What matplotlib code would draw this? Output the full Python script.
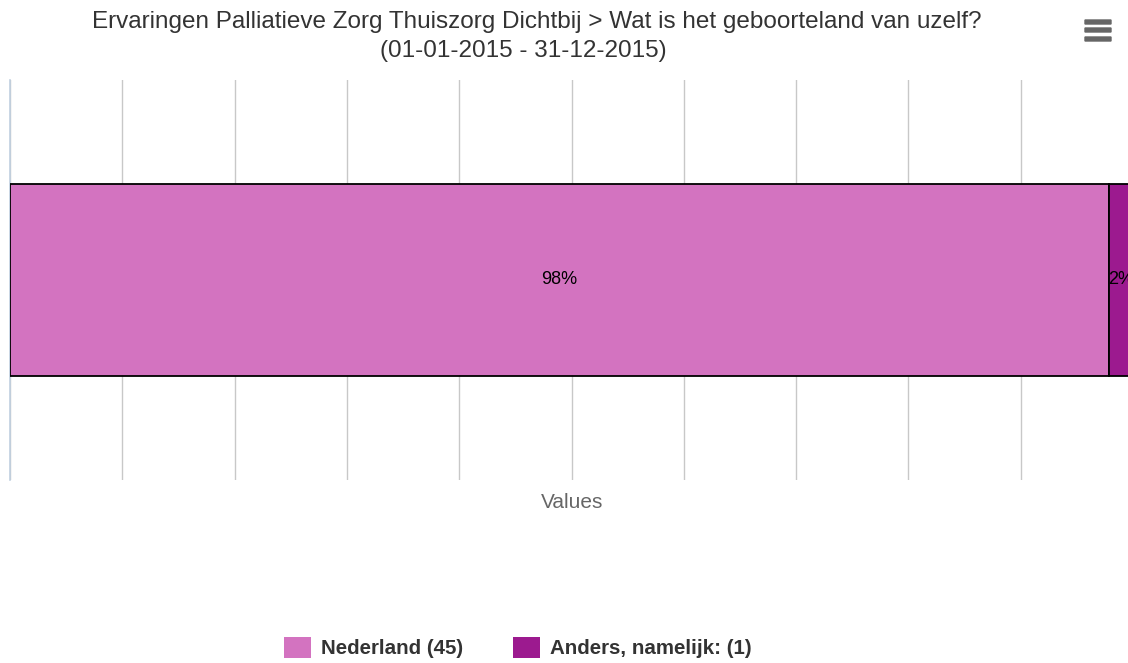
import matplotlib.pyplot as plt
from matplotlib.patches import Rectangle, FancyBboxPatch

plt.rcParams['font.family'] = ['Liberation Sans', 'DejaVu Sans']

# data
series = ["Nederland", "Anders, namelijk:"]
counts = [45, 1]
colors = ["#D373C0", "#9C1A8F"]
title_1 = "Ervaringen Palliatieve Zorg Thuiszorg Dichtbij > Wat is het geboorteland van uzelf?"
title_2 = "(01-01-2015 - 31-12-2015)"

W, H = 1128, 663
fig = plt.figure(figsize=(W / 100, H / 100), dpi=100)

# plot area (in pixels: x 10..1133, y 80..480)
ax = fig.add_axes([10 / W, 1 - 480 / H, 1123 / W, 400 / H])
ax.set_xlim(0, 100)
ax.set_ylim(-0.5, 0.5)

total = sum(counts)
left = 0
for name, c, col in zip(series, counts, colors):
    pct = c / total * 100
    ax.barh(0, pct, left=left, height=0.48, color=col, edgecolor="black",
            linewidth=1.3, zorder=3)
    ax.text(left + pct / 2, 0, f"{round(pct)}%", ha="center", va="center",
            fontsize=13, color="black", zorder=4)
    left += pct

ax.set_xticks(range(0, 101, 10))
ax.set_xticklabels([])
ax.set_yticks([])
ax.tick_params(length=0)
ax.grid(axis="x", color="#C8C8C8", linewidth=1, zorder=0)
for s in ["top", "right", "bottom"]:
    ax.spines[s].set_visible(False)
ax.spines["left"].set_color("#C0D0E0")
ax.spines["left"].set_linewidth(1.2)

fig.text(572 / W, 1 - 503 / H, "Values", ha="center", va="center",
         fontsize=15, color="#666666")

fig.text(537 / W, 1 - 22 / H, title_1, ha="center", va="center",
         fontsize=17.5, color="#333333")
fig.text(523 / W, 1 - 51 / H, title_2, ha="center", va="center",
         fontsize=17.5, color="#333333")

# menu icon
for yy in [22, 30, 39]:
    fig.add_artist(FancyBboxPatch((1085 / W, 1 - (yy + 2) / H), 26 / W, 4 / H,
                                  boxstyle="round,pad=0", transform=fig.transFigure,
                                  facecolor="#666666", edgecolor="#666666", linewidth=1))

# legend
leg_x = [284, 513]
for x0, name, c, col in zip(leg_x, series, counts, colors):
    fig.add_artist(Rectangle((x0 / W, 1 - 658 / H), 27 / W, 21 / H,
                             transform=fig.transFigure, facecolor=col, edgecolor="none"))
    fig.text((x0 + 37) / W, 1 - 648 / H, f"{name} ({c})", ha="left", va="center",
             fontsize=14.8, fontweight="bold", color="#333333")

fig.savefig("out.png", dpi=100)
